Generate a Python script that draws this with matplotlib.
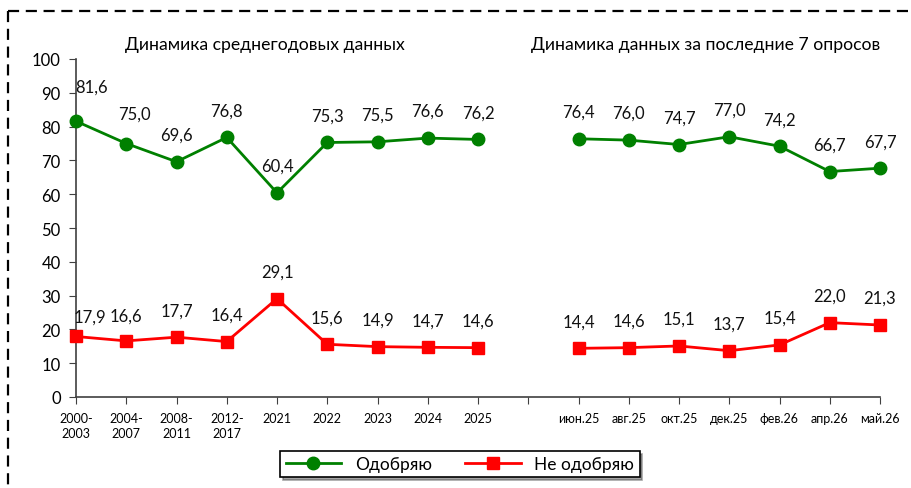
import matplotlib
matplotlib.use("Agg")
import matplotlib.pyplot as plt
from matplotlib.lines import Line2D
import numpy as np

plt.rcParams["font.family"] = ["Lato", "DejaVu Sans"]

# categories: 9 yearly values, one empty slot, 7 latest polls
categories = ["2000-\n2003", "2004-\n2007", "2008-\n2011", "2012-\n2017", "2021", "2022",
              "2023", "2024", "2025", "", "июн.25", "авг.25", "окт.25", "дек.25",
              "фев.26", "апр.26", "май.26"]
approve = [81.6, 75.0, 69.6, 76.8, 60.4, 75.3, 75.5, 76.6, 76.2, None,
           76.4, 76.0, 74.7, 77.0, 74.2, 66.7, 67.7]
disapprove = [17.9, 16.6, 17.7, 16.4, 29.1, 15.6, 14.9, 14.7, 14.6, None,
              14.4, 14.6, 15.1, 13.7, 15.4, 22.0, 21.3]
series_names = ["Одобряю", "Не одобряю"]
titles = ["Динамика среднегодовых данных", "Динамика данных за последние 7 опросов"]

# label offsets in pixels (dx, dy); default is straight above the point
green_off = {0: (16, 35), 1: (8, 30)}
red_off = {0: (14, 20), 1: (0, 25)}

W, H = 911, 489
fig = plt.figure(figsize=(W / 100, H / 100), dpi=100)
ax = fig.add_axes([76 / W, 1 - 398 / H, (880 - 76) / W, (398 - 60) / H])

x = np.arange(len(categories))
a = np.array([np.nan if v is None else v for v in approve])
d = np.array([np.nan if v is None else v for v in disapprove])

ax.plot(x, a, color="#008000", lw=2, marker="o", ms=9, label=series_names[0], clip_on=False, zorder=3)
ax.plot(x, d, color="#ff0000", lw=2, marker="s", ms=8.5, label=series_names[1], clip_on=False, zorder=3)

def fmt(v):
    return f"{v:.1f}".replace(".", ",")

for i in x:
    if not np.isnan(a[i]):
        dx, dy = green_off.get(i, (0, 27))
        ax.annotate(fmt(a[i]), (i, a[i]), xytext=(dx, dy), textcoords="offset pixels",
                    ha="center", va="center", fontsize=12, color="#111111")
    if not np.isnan(d[i]):
        dx, dy = red_off.get(i, (0, 27))
        ax.annotate(fmt(d[i]), (i, d[i]), xytext=(dx, dy), textcoords="offset pixels",
                    ha="center", va="center", fontsize=12, color="#111111")

ax.set_xlim(0, len(categories) - 1)
ax.set_ylim(0, 100)
ax.set_yticks(range(0, 101, 10))
ax.set_xticks(x)
ax.set_xticklabels(categories, fontsize=9, linespacing=1.3)
ax.tick_params(axis="y", labelsize=12, length=5, direction="out", pad=6, color="#404040")
ax.tick_params(axis="x", length=5, direction="out", pad=6, color="#404040")
for s in ("top", "right"):
    ax.spines[s].set_visible(False)
for s in ("left", "bottom"):
    ax.spines[s].set_color("#404040")
    ax.spines[s].set_linewidth(1.2)

fig.text(265 / W, 1 - 45 / H, titles[0], ha="center", va="center", fontsize=12.7)
fig.text(706 / W, 1 - 45 / H, titles[1], ha="center", va="center", fontsize=12.7)

leg = fig.legend(loc="center", bbox_to_anchor=(460 / W, 1 - 465 / H), ncol=2, fontsize=12.5,
                 frameon=True, fancybox=False, shadow=True, edgecolor="black",
                 handlelength=3.2, columnspacing=1.9, borderpad=0.3, borderaxespad=0)
leg.get_frame().set_linewidth(1.2)

# dashed border (top and left edge of the cropped frame)
fig.add_artist(Line2D([8 / W, 1], [1 - 12 / H, 1 - 12 / H], transform=fig.transFigure,
                      color="black", lw=1.6, ls=(0, (5, 3))))
fig.add_artist(Line2D([8 / W, 8 / W], [1 - 12 / H, 0], transform=fig.transFigure,
                      color="black", lw=1.6, ls=(0, (5, 3))))

fig.savefig("out.png", dpi=100)
